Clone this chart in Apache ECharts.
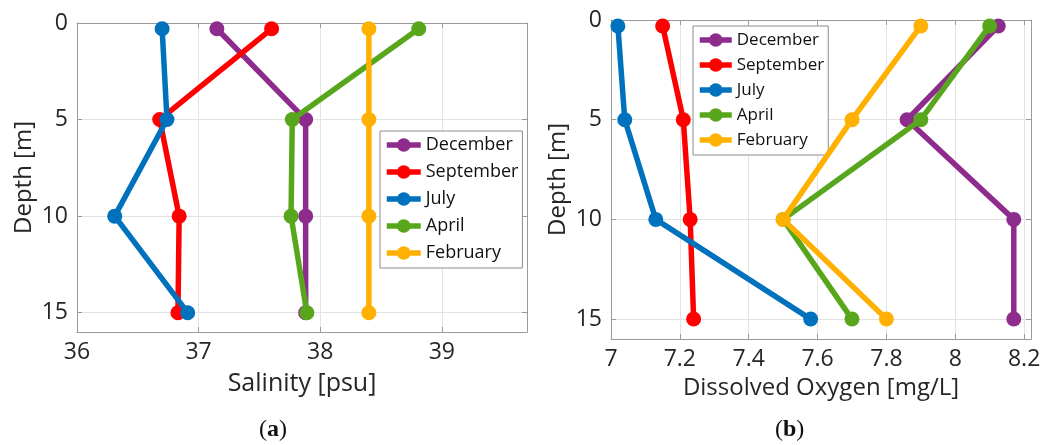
<!DOCTYPE html>
<html>
<head>
<meta charset="utf-8">
<script src="https://cdn.jsdelivr.net/npm/echarts@6/dist/echarts.min.js"></script>
<style>
html,body{margin:0;padding:0;background:#fff;}
#chart{width:1052px;height:445px;}
</style>
</head>
<body>
<div id="chart"></div>
<script>
// ---- data ----
const months = ['December', 'September', 'July', 'April', 'February'];
const colors = ['#8E2C8E', '#FF0000', '#0072BD', '#58A61C', '#FFB000'];
const depths = [0.3, 5, 10, 15];

// Panel (a): Salinity [psu]
const salDecember  = [37.15, 37.88, 37.88, 37.88];
const salSeptember = [37.60, 36.68, 36.84, 36.83];
const salJuly      = [36.70, 36.74, 36.31, 36.91];
const salApril     = [38.81, 37.77, 37.76, 37.89];
const salFebruary  = [38.40, 38.40, 38.40, 38.40];

// Panel (b): Dissolved Oxygen [mg/L]
const doDecember  = [8.125, 7.86, 8.17, 8.17];
const doSeptember = [7.15, 7.21, 7.23, 7.24];
const doJuly      = [7.02, 7.04, 7.13, 7.58];
const doApril     = [8.10, 7.90, 7.50, 7.70];
const doFebruary  = [7.90, 7.70, 7.50, 7.80];

const salTicks = [36, 37, 38, 39];
const doTicks = [7, 7.2, 7.4, 7.6, 7.8, 8, 8.2];
const depthTicks = [0, 5, 10, 15];

const salSeries = [salDecember, salSeptember, salJuly, salApril, salFebruary];
const doSeries = [doDecember, doSeptember, doJuly, doApril, doFebruary];

// ---- chart ----
const FONT = 'Open Sans';
const TXT = '#262626';
const BOX = '#9a9a9a';

function pairs(vals) { return vals.map((v, i) => [v, depths[i]]); }

function mainX(gi, min, max, interval, name, nameGap, nameSize) {
  return {
    type: 'value', gridIndex: gi, min: min, max: max, interval: interval,
    position: 'bottom',
    name: name, nameLocation: 'middle', nameGap: nameGap,
    nameTextStyle: { fontFamily: FONT, fontSize: nameSize, color: TXT },
    axisLine: { show: true, onZero: false, lineStyle: { color: BOX, width: 1 } },
    axisTick: { show: true, inside: true, length: 5, lineStyle: { color: BOX } },
    axisLabel: { fontFamily: FONT, fontSize: 23, color: TXT, margin: 9, showMaxLabel: false },
    splitLine: { show: true, lineStyle: { color: '#e3e3e3', width: 1 } }
  };
}
function topX(gi, min, max, interval) {
  return {
    type: 'value', gridIndex: gi, min: min, max: max, interval: interval,
    position: 'top',
    axisLine: { show: true, onZero: false, lineStyle: { color: BOX, width: 1 } },
    axisTick: { show: true, inside: true, length: 5, lineStyle: { color: BOX } },
    axisLabel: { show: false }, splitLine: { show: false }
  };
}
function mainY(gi) {
  return {
    type: 'value', gridIndex: gi, min: 0, max: 16, interval: 5, inverse: true,
    position: 'left',
    name: 'Depth [m]', nameLocation: 'middle', nameGap: 41, nameRotate: 90,
    nameTextStyle: { fontFamily: FONT, fontSize: 24, color: TXT },
    axisLine: { show: true, onZero: false, lineStyle: { color: BOX, width: 1 } },
    axisTick: { show: true, inside: true, length: 5, lineStyle: { color: BOX } },
    axisLabel: { fontFamily: FONT, fontSize: 23, color: TXT, margin: 9, showMaxLabel: false },
    splitLine: { show: true, lineStyle: { color: '#e3e3e3', width: 1 } }
  };
}
function rightY(gi) {
  return {
    type: 'value', gridIndex: gi, min: 0, max: 16, interval: 5, inverse: true,
    position: 'right',
    axisLine: { show: true, onZero: false, lineStyle: { color: BOX, width: 1 } },
    axisTick: { show: true, inside: true, length: 5, lineStyle: { color: BOX } },
    axisLabel: { show: false }, splitLine: { show: false }
  };
}

const series = [];
months.forEach((m, i) => {
  [[salSeries, 0, 0], [doSeries, 2, 2]].forEach(([arr, xi, yi]) => {
    series.push({
      name: m, type: 'line', xAxisIndex: xi, yAxisIndex: yi,
      data: pairs(arr[i]),
      symbol: 'circle', symbolSize: 15, showSymbol: true,
      color: colors[i],
      lineStyle: { width: 5.5, color: colors[i] },
      itemStyle: { color: colors[i] },
      emphasis: { disabled: true },
      animation: false, z: 2 + i
    });
  });
});

function legend(left, top, fontSize, gap, itemW) {
  return {
    orient: 'vertical', left: left, top: top,
    data: months,
    backgroundColor: '#fff', borderColor: '#8c8c8c', borderWidth: 1,
    padding: [4, 4, 5, 4],
    itemWidth: itemW, itemHeight: 17, itemGap: gap,
    lineStyle: { width: 5.5 },
    textStyle: { fontFamily: FONT, fontSize: fontSize, color: '#111', lineHeight: 20 },
    selectedMode: false
  };
}

const capRich = {
  n: { fontFamily: 'Liberation Serif', fontSize: 24, fill: '#111' },
  b: { fontFamily: 'Liberation Serif', fontSize: 24, fontWeight: 'bold', fill: '#111' }
};

const option = {
  backgroundColor: '#fff',
  animation: false,
  color: colors,
  grid: [
    { left: 77, top: 23, width: 450, height: 309, containLabel: false },
    { left: 611, top: 20, width: 420, height: 319, containLabel: false }
  ],
  xAxis: [
    mainX(0, 36, 39.7, 1, 'Salinity [psu]', 39, 25),
    topX(0, 36, 39.7, 1),
    mainX(1, 7, 8.22, 0.2, 'Dissolved Oxygen [mg/L]', 36, 24),
    topX(1, 7, 8.22, 0.2)
  ],
  yAxis: [mainY(0), rightY(0), mainY(1), rightY(1)],
  legend: [legend(380, 131, 18, 7, 34), legend(693, 26, 17, 5, 32)],
  series: series,
  graphic: [
    { type: 'text', left: 259, top: 418, style: { text: '{n|(}{b|a}{n|)}', rich: capRich } },
    { type: 'text', left: 775, top: 418, style: { text: '{n|(}{b|b}{n|)}', rich: capRich } }
  ]
};

const chart = echarts.init(document.getElementById('chart'), null, { renderer: 'canvas' });
chart.setOption(option);
</script>
</body>
</html>
